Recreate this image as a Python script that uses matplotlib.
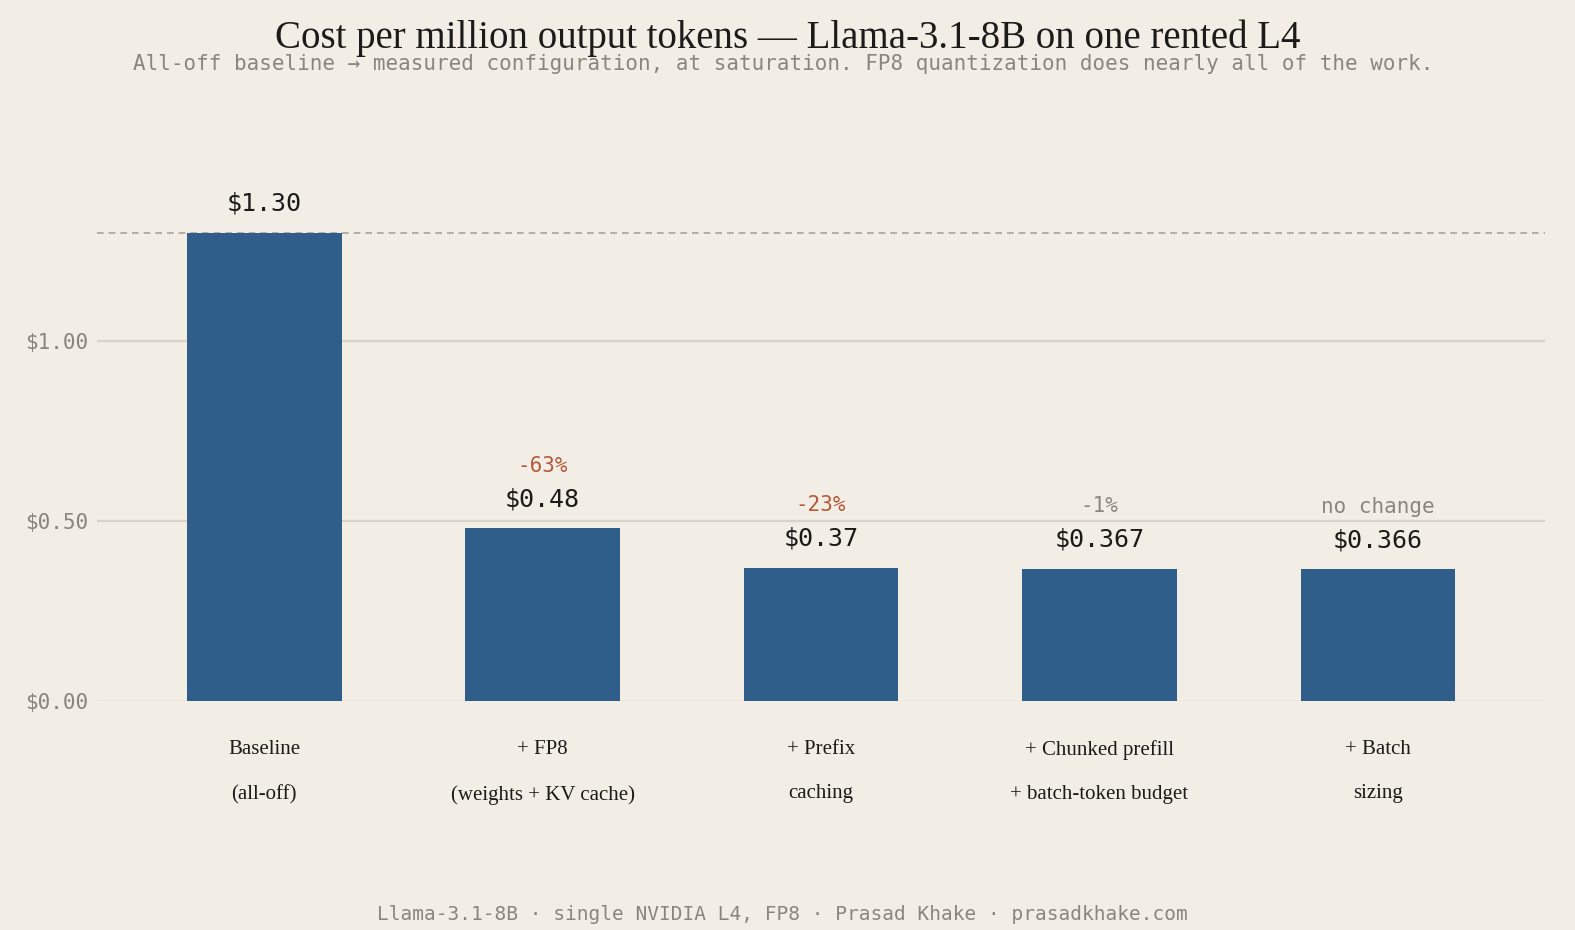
import matplotlib.pyplot as plt
import numpy as np

# Data
categories = ["Baseline\n(all-off)", "+ FP8\n(weights + KV cache)", "+ Prefix\ncaching",
              "+ Chunked prefill\n+ batch-token budget", "+ Batch\nsizing"]
costs = [1.30, 0.48, 0.37, 0.367, 0.366]
cost_labels = ["$1.30", "$0.48", "$0.37", "$0.367", "$0.366"]
deltas = [None, "-63%", "-23%", "-1%", "no change"]
delta_big = [False, True, True, False, False]
yticks = [0.0, 0.5, 1.0]
ytick_labels = ["$0.00", "$0.50", "$1.00"]

# Colours
BG = "#F2EDE5"
BAR = "#2F5E8A"
GRID = "#DAD4C8"
MUTED = "#8A857D"
INK = "#1C1B19"
ACCENT = "#B4583A"

SERIF = ["Liberation Serif", "DejaVu Serif"]
MONO = ["DejaVu Sans Mono"]

fig = plt.figure(figsize=(15.75, 9.3), dpi=100, facecolor=BG)
ax = fig.add_axes([0.0616, 0.2462, 0.9194, 0.60])
ax.set_facecolor(BG)

x = np.arange(len(costs))
ax.bar(x, costs, width=0.556, color=BAR, zorder=3)

ax.set_xlim(-0.6, 4.6)
ax.set_ylim(0, 1.55)

# Gridlines + baseline reference
for t in yticks:
    ax.axhline(t, color=GRID, lw=1.6 if t > 0 else 1.0, zorder=1)
ax.axhline(costs[0], color="#A9A39A", lw=1.2, ls=(0, (4, 3)), zorder=2)

# Value and delta labels
for i, (c, lab, d, big) in enumerate(zip(costs, cost_labels, deltas, delta_big)):
    ax.annotate(lab, (i, c), xytext=(0, 21), textcoords="offset points",
                ha="center", va="center", fontsize=18, color=INK, family=MONO)
    if d:
        ax.annotate(d, (i, c), xytext=(0, 45), textcoords="offset points",
                    ha="center", va="center", fontsize=15,
                    color=ACCENT if big else MUTED, family=MONO)

# Axes styling
for s in ax.spines.values():
    s.set_visible(False)
ax.set_yticks(yticks)
ax.set_yticklabels(ytick_labels, family=MONO, fontsize=15, color=MUTED)
ax.set_xticks(x)
ax.set_xticklabels(categories, family=SERIF, fontsize=15, color=INK, linespacing=2.8)
ax.tick_params(axis="both", length=0)
ax.tick_params(axis="y", pad=6)
ax.tick_params(axis="x", pad=28)

# Titles and footer
fig.text(0.5, 0.959, "Cost per million output tokens \u2014 Llama-3.1-8B on one rented L4",
         ha="center", va="center", fontsize=28, color=INK, family=SERIF)
fig.text(0.497, 0.931, "All-off baseline \u2192 measured configuration, at saturation. "
         "FP8 quantization does nearly all of the work.",
         ha="center", va="center", fontsize=15, color=MUTED, family=MONO)
fig.text(0.497, 0.017, "Llama-3.1-8B \u00b7 single NVIDIA L4, FP8 \u00b7 Prasad Khake \u00b7 prasadkhake.com",
         ha="center", va="center", fontsize=14, color=MUTED, family=MONO)

fig.savefig("out.png", dpi=100, facecolor=BG)
